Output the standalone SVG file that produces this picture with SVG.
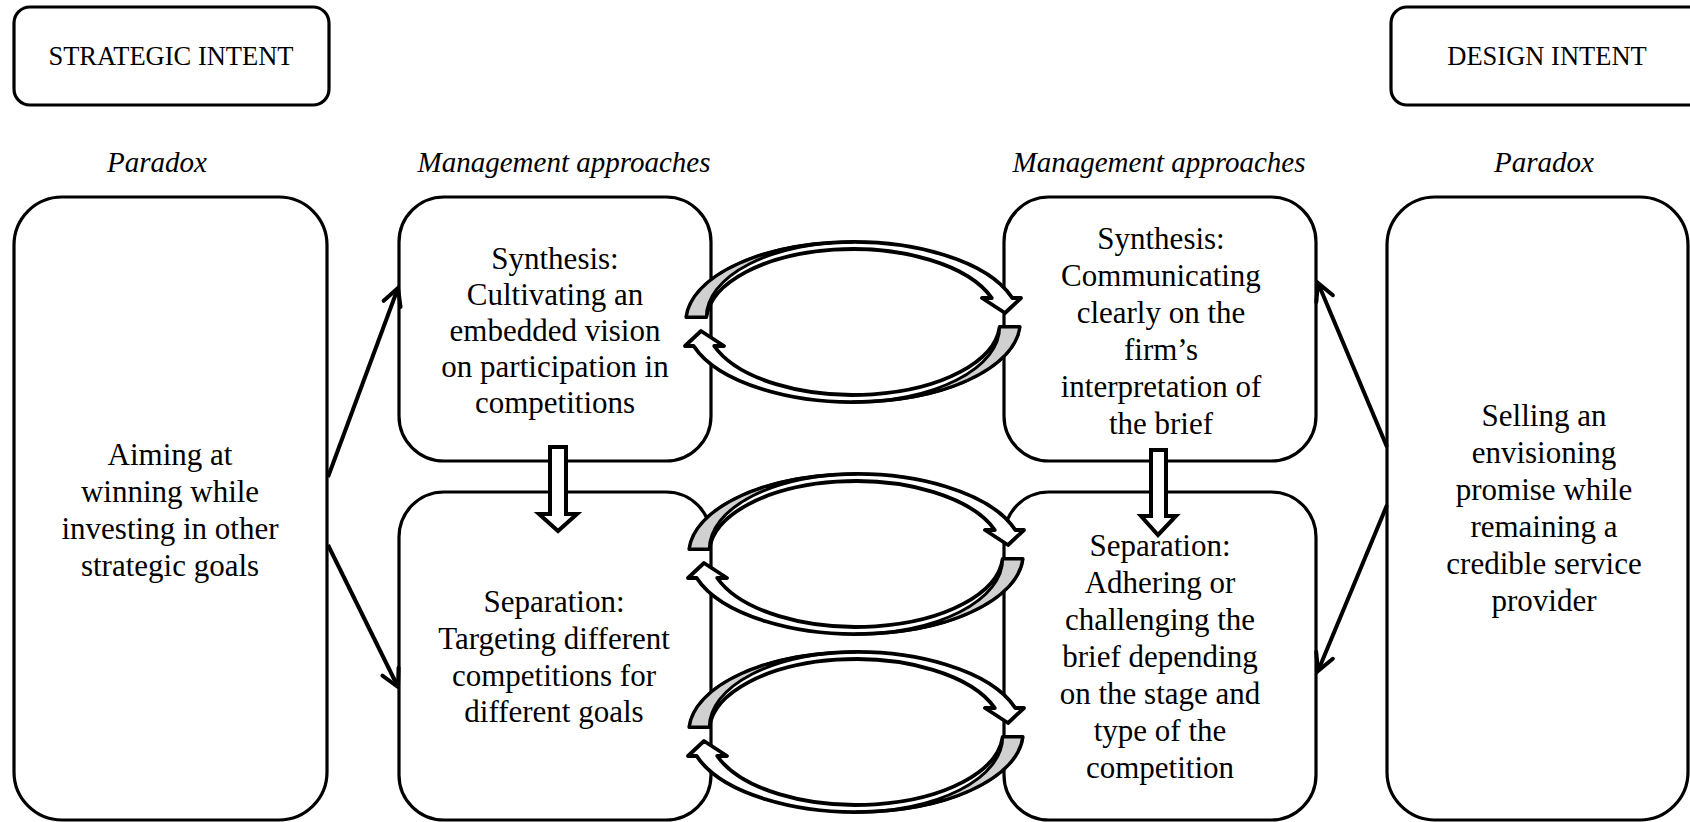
<svg xmlns="http://www.w3.org/2000/svg" width="1690" height="822" viewBox="0 0 1690 822">
<style>
.box{fill:#fff;stroke:#000;stroke-width:3.2}
.t{font-family:"Liberation Serif","Times New Roman",serif;font-size:31px;fill:#000;text-anchor:middle}
.h{font-family:"Liberation Serif","Times New Roman",serif;font-size:26.5px;fill:#000;text-anchor:middle}
.i{font-family:"Liberation Serif","Times New Roman",serif;font-size:29px;font-style:italic;fill:#000;text-anchor:middle}
.ln{stroke:#000;stroke-width:4;fill:none;marker-end:url(#open)}
.blk{fill:#fff;stroke:#000;stroke-width:4;stroke-linejoin:miter}
.band{fill:#fff;stroke:#000;stroke-width:3.8;stroke-linejoin:round}
.gray{fill:#d0d0d0;stroke:#000;stroke-width:3;stroke-linejoin:round}
</style>
<defs>
<marker id="open" markerUnits="userSpaceOnUse" markerWidth="30" markerHeight="30" refX="0" refY="0" viewBox="-20 -15 25 30" orient="auto" overflow="visible">
<path d="M-17,-9 L0,0 L-17,9" fill="none" stroke="#000" stroke-width="4" stroke-linecap="round" stroke-linejoin="miter"/>
</marker>
<g id="half">
<path class="band" d="M-166.7,-5 A167 80 0 0 1 159.3,-24 L168,-24 L152,-9 L129,-24 L138.8,-24 A147 73 0 0 0 -146.65,-5 Z"/>
<path class="gray" d="M-166.7,-5 A167 80 0 0 1 0,-80 A146.65 75 0 0 0 -146.65,-5 Z"/>
</g>
<g id="cycle">
<use href="#half"/>
<use href="#half" transform="rotate(180)"/>
</g>
</defs>

<g id="strategic-intent">
<rect class="box" x="14" y="7" width="315" height="98" rx="16" ry="16"/>
<text class="h" x="171" y="65">STRATEGIC INTENT</text>
</g>
<g id="design-intent">
<rect class="box" x="1391" y="7" width="330" height="98" rx="16" ry="16"/>
<text class="h" x="1547" y="65">DESIGN INTENT</text>
</g>

<g id="headers">
<text class="i" x="157" y="172">Paradox</text>
<text class="i" x="564" y="172">Management approaches</text>
<text class="i" x="1159" y="172">Management approaches</text>
<text class="i" x="1544" y="172">Paradox</text>
</g>

<g id="paradox-strategic">
<rect class="box" x="14" y="197" width="313" height="623" rx="48" ry="48"/>
<text class="t"><tspan x="170" y="465">Aiming at</tspan><tspan x="170" y="502">winning while</tspan><tspan x="170" y="539">investing in other</tspan><tspan x="170" y="576">strategic goals</tspan></text>
</g>

<g id="synthesis-strategic">
<rect class="box" x="399" y="197" width="312" height="264" rx="45" ry="45"/>
<text class="t"><tspan x="555" y="269">Synthesis:</tspan><tspan x="555" y="305">Cultivating an</tspan><tspan x="555" y="341">embedded vision</tspan><tspan x="555" y="377">on participation in</tspan><tspan x="555" y="413">competitions</tspan></text>
</g>

<g id="separation-strategic">
<rect class="box" x="399" y="492" width="312" height="328" rx="45" ry="45"/>
<text class="t"><tspan x="554" y="612">Separation:</tspan><tspan x="554" y="649">Targeting different</tspan><tspan x="554" y="686">competitions for</tspan><tspan x="554" y="722">different goals</tspan></text>
</g>

<g id="synthesis-design">
<rect class="box" x="1004" y="197" width="312" height="264" rx="45" ry="45"/>
<text class="t"><tspan x="1161" y="249">Synthesis:</tspan><tspan x="1161" y="286">Communicating</tspan><tspan x="1161" y="323">clearly on the</tspan><tspan x="1161" y="360">firm’s</tspan><tspan x="1161" y="397">interpretation of</tspan><tspan x="1161" y="434">the brief</tspan></text>
</g>

<g id="separation-design">
<rect class="box" x="1004" y="492" width="312" height="328" rx="45" ry="45"/>
<text class="t"><tspan x="1160" y="556">Separation:</tspan><tspan x="1160" y="593">Adhering or</tspan><tspan x="1160" y="630">challenging the</tspan><tspan x="1160" y="667">brief depending</tspan><tspan x="1160" y="704">on the stage and</tspan><tspan x="1160" y="741">type of the</tspan><tspan x="1160" y="778">competition</tspan></text>
</g>

<g id="paradox-design">
<rect class="box" x="1387" y="197" width="301" height="623" rx="48" ry="48"/>
<text class="t"><tspan x="1544" y="426">Selling an</tspan><tspan x="1544" y="463">envisioning</tspan><tspan x="1544" y="500">promise while</tspan><tspan x="1544" y="537">remaining a</tspan><tspan x="1544" y="574">credible service</tspan><tspan x="1544" y="611">provider</tspan></text>
</g>

<g id="connectors">
<line class="ln" x1="328" y1="477" x2="398" y2="288"/>
<line class="ln" x1="328" y1="545" x2="398" y2="687"/>
<line class="ln" x1="1387" y1="447" x2="1318" y2="283"/>
<line class="ln" x1="1387" y1="505" x2="1318" y2="671"/>
<polygon class="blk" points="550,447 566,447 566,514 577,514 558,531 539,514 550,514"/>
<polygon class="blk" points="1151,450 1166,450 1166,516 1176,516 1158,535 1141,516 1151,516"/>
<use href="#cycle" transform="translate(853,322)"/>
<use href="#cycle" transform="translate(856,554)"/>
<use href="#cycle" transform="translate(856,732)"/>
</g>
</svg>
